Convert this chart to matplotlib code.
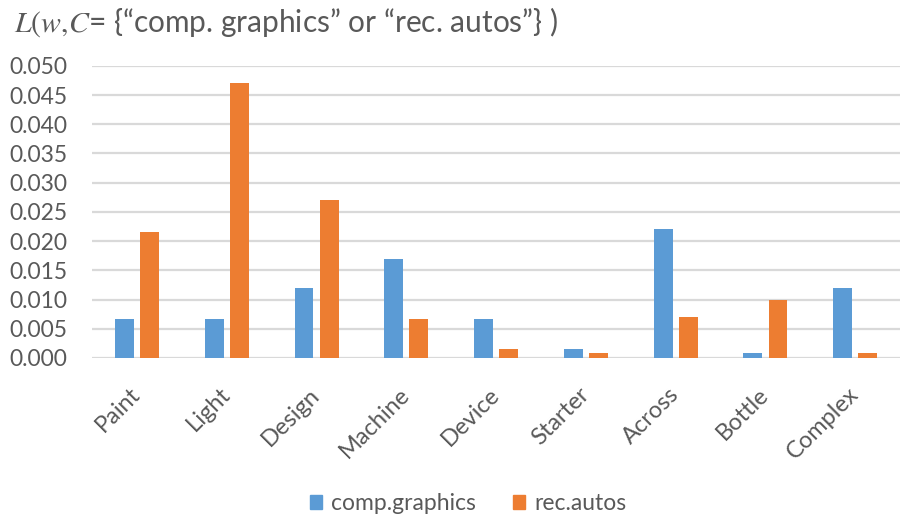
import matplotlib
matplotlib.use("Agg")
import matplotlib.pyplot as plt
import numpy as np
from matplotlib.patches import Patch

categories = ["Paint", "Light", "Design", "Machine", "Device", "Starter", "Across", "Bottle", "Complex"]
comp_graphics = [0.0067, 0.0067, 0.0120, 0.0170, 0.0067, 0.0015, 0.0220, 0.0009, 0.0120]
rec_autos = [0.0216, 0.0470, 0.0270, 0.0067, 0.0015, 0.0009, 0.0070, 0.0099, 0.0009]
yticks = [0.000, 0.005, 0.010, 0.015, 0.020, 0.025, 0.030, 0.035, 0.040, 0.045, 0.050]

blue = "#5b9bd5"
orange = "#ed7d31"
text_col = "#595959"
grid_col = "#d9d9d9"

plt.rcParams["font.family"] = ["Lato", "DejaVu Sans"]
plt.rcParams["mathtext.fontset"] = "stix"

fig = plt.figure(figsize=(9.02, 5.18), dpi=100)
ax = fig.add_axes([0.102, 0.309, 0.896, 0.564])

x = np.arange(len(categories))
w = 0.21
off = 0.14
ax.bar(x - off, comp_graphics, width=w, color=blue, label="comp.graphics", zorder=3)
ax.bar(x + off, rec_autos, width=w, color=orange, label="rec.autos", zorder=3)

ax.set_xlim(-0.5, len(categories) - 0.5)
ax.set_ylim(0, 0.05)
ax.set_yticks(yticks)
ax.set_yticklabels([f"{v:.3f}" for v in yticks], fontsize=16.5, color=text_col)
ax.yaxis.grid(True, color=grid_col, linewidth=1.6, zorder=0)
ax.set_axisbelow(True)
for s in ax.spines.values():
    s.set_visible(False)
ax.tick_params(axis="both", length=0)
ax.tick_params(axis="y", pad=18)

ax.set_xticks(x)
ax.set_xticklabels(categories, rotation=45, ha="right", va="center",
                   rotation_mode="anchor", fontsize=17, color=text_col)
ax.tick_params(axis="x", pad=24)

fig.text(0.016, 0.958,
         r"$L(w{,}C$= {“comp. graphics” or “rec. autos”} )",
         fontsize=21.5, color=text_col, ha="left", va="center")

handles = [Patch(color=blue), Patch(color=orange)]
fig.legend(handles, ["comp.graphics", "rec.autos"], loc="center",
           bbox_to_anchor=(0.519, 0.028), ncol=2, frameon=False,
           fontsize=16.5, labelcolor=text_col, handlelength=0.55,
           handleheight=0.55, handletextpad=0.4, columnspacing=1.6)

fig.savefig("out.png", dpi=100, facecolor="white")
